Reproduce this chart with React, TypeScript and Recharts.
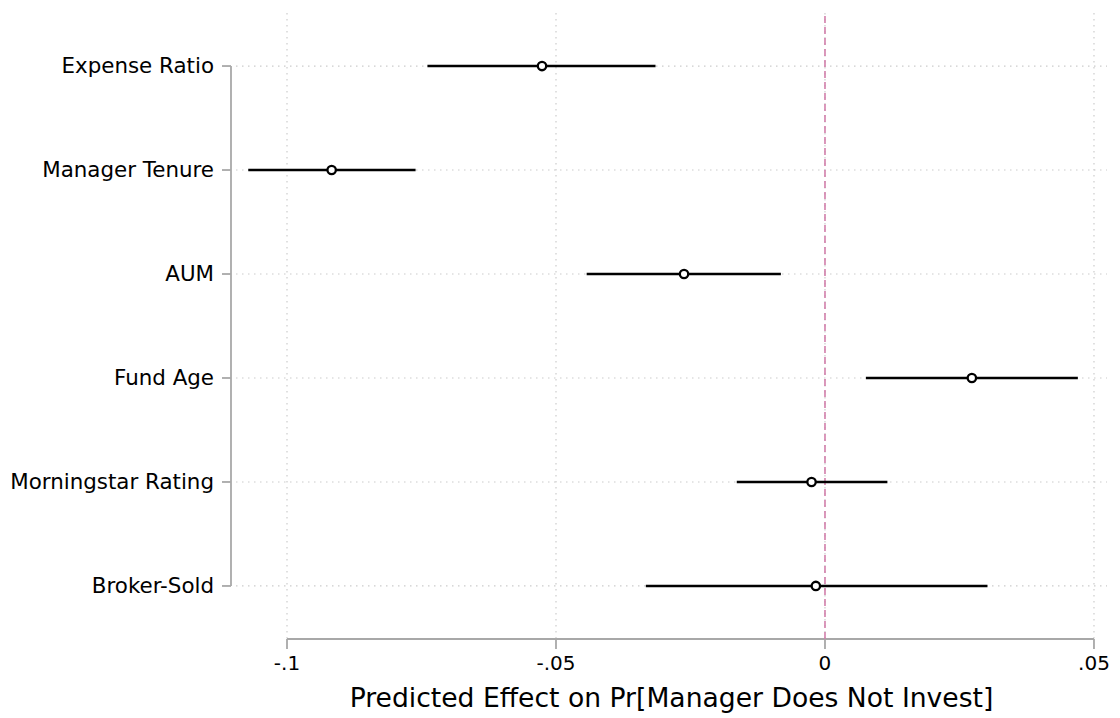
import {
  CartesianGrid,
  ComposedChart,
  ErrorBar,
  ReferenceLine,
  Scatter,
  XAxis,
  YAxis,
} from 'recharts';

const labels = ['Expense Ratio', 'Manager Tenure', 'AUM', 'Fund Age', 'Morningstar Rating', 'Broker-Sold'];
const estimates = [-0.0526, -0.0917, -0.0262, 0.0273, -0.0025, -0.0017];
const lowerCI = [-0.0739, -0.1072, -0.0443, 0.0076, -0.0164, -0.0333];
const upperCI = [-0.0315, -0.0761, -0.0082, 0.047, 0.0116, 0.0302];
const xTicks = [-0.1, -0.05, 0, 0.05];
const xTickLabels = ['-.1', '-.05', '0', '.05'];
const xTitle = 'Predicted Effect on Pr[Manager Does Not Invest]';

const FONT = '"DejaVu Sans", Verdana, sans-serif';
const AXIS_GRAY = '#a8a8a8';
const GRID_GRAY = '#cccccc';

const xDomain = [-0.10948, 0.05242];
const yDomain = [0.49, labels.length + 0.51];

// row 1 is the bottom one, so the first label sits on top
const rows = labels.map((name, i) => ({
  name,
  pos: labels.length - i,
  est: estimates[i],
  err: [estimates[i] - lowerCI[i], upperCI[i] - estimates[i]],
}));
const yTicks = rows.map((r) => r.pos);
const labelAt = (pos: number) => rows.find((r) => r.pos === pos)?.name ?? '';

function YTick({ x, y, payload }: any) {
  return (
    <g>
      <line x1={x - 14} x2={x - 5} y1={y} y2={y} stroke={AXIS_GRAY} strokeWidth={1.8} />
      <text x={x - 22} y={y} dy={7} textAnchor="end" fontFamily={FONT} fontSize={21.4} fill="#000">
        {labelAt(payload.value)}
      </text>
    </g>
  );
}

function XTick({ x, y, payload }: any) {
  const i = xTicks.indexOf(payload.value);
  return (
    <text x={x} y={y + 21} textAnchor="middle" fontFamily={FONT} fontSize={20} fill="#000">
      {i >= 0 ? xTickLabels[i] : payload.value}
    </text>
  );
}

function Dot({ cx, cy }: any) {
  return <circle cx={cx} cy={cy} r={4.2} fill="#fff" stroke="#000" strokeWidth={2.3} />;
}

export default function App() {
  const yAxisX = xDomain[0] - 0.00093;
  return (
    <div style={{ position: 'absolute', left: 0, top: 0, background: '#fff' }}>
      <ComposedChart
        width={1120}
        height={718}
        data={rows}
        margin={{ top: 13, right: 13, left: 0, bottom: 0 }}
      >
        <CartesianGrid stroke={GRID_GRAY} strokeDasharray="1.5 4.5" strokeWidth={1.2} syncWithTicks />
        <XAxis
          type="number"
          dataKey="est"
          domain={xDomain}
          allowDataOverflow
          ticks={xTicks}
          axisLine={false}
          tickLine={{ stroke: AXIS_GRAY, strokeWidth: 1.8 }}
          tickSize={10}
          tickMargin={0}
          tick={<XTick />}
          height={79}
          label={{ value: xTitle, position: 'insideBottom', offset: 11, fontSize: 26.6, fontFamily: FONT, fill: '#000' }}
        />
        <YAxis
          type="number"
          dataKey="pos"
          domain={yDomain}
          allowDataOverflow
          ticks={yTicks}
          axisLine={false}
          tickLine={false}
          tickSize={0}
          tickMargin={0}
          tick={<YTick />}
          width={236}
        />
        <ReferenceLine
          segment={[{ x: xTicks[0], y: yDomain[0] }, { x: xTicks[xTicks.length - 1], y: yDomain[0] }]}
          stroke={AXIS_GRAY}
          strokeWidth={1.8}
          ifOverflow="visible"
        />
        <ReferenceLine
          segment={[{ x: yAxisX, y: yTicks[yTicks.length - 1] }, { x: yAxisX, y: yTicks[0] }]}
          stroke={AXIS_GRAY}
          strokeWidth={1.8}
          ifOverflow="visible"
        />
        <ReferenceLine x={0} stroke="#d27fab" strokeWidth={1.6} strokeDasharray="7 4" ifOverflow="visible" />
        <Scatter dataKey="pos" isAnimationActive={false} shape={<Dot />}>
          <ErrorBar dataKey="err" direction="x" width={0} stroke="#000" strokeWidth={2.5} isAnimationActive={false} />
        </Scatter>
      </ComposedChart>
    </div>
  );
}
